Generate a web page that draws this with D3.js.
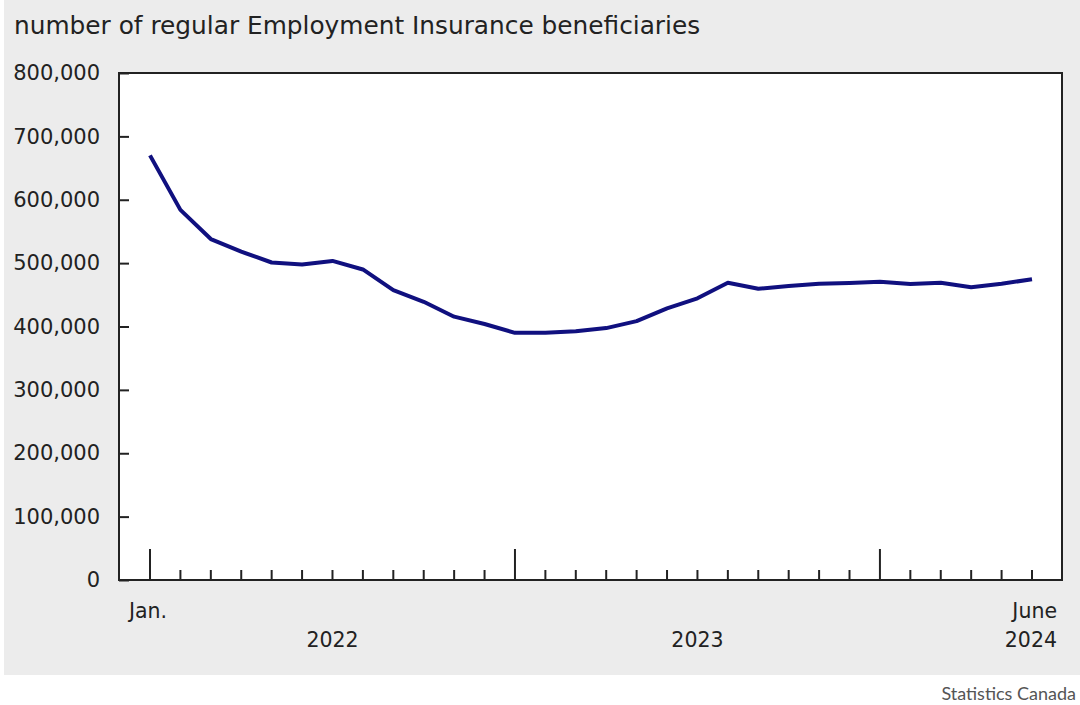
<!DOCTYPE html>
<html><head><meta charset="utf-8">
<script src="https://cdn.jsdelivr.net/npm/d3@7"></script>
<style>body{margin:0;background:#fff}svg{display:block}</style>
</head><body>
<svg id="c" width="1080" height="705"></svg>
<script>
const months = ["2022-01","2022-02","2022-03","2022-04","2022-05","2022-06","2022-07","2022-08","2022-09","2022-10","2022-11","2022-12",
"2023-01","2023-02","2023-03","2023-04","2023-05","2023-06","2023-07","2023-08","2023-09","2023-10","2023-11","2023-12",
"2024-01","2024-02","2024-03","2024-04","2024-05","2024-06"];
const beneficiaries = [670000,584000,538000,518000,501000,498000,503500,490000,457500,439000,415500,404000,
390000,390000,392500,397500,408500,428500,444500,469000,459500,464000,467500,468500,470500,467000,469000,462000,467500,474500];
const yTicks = [0,100000,200000,300000,400000,500000,600000,700000,800000];
const monthLabels = [{i:0,t:"Jan."},{i:29,t:"June"}];
const yearLabels = [{from:0,to:12,t:"2022"},{from:12,to:24,t:"2023"},{from:29,to:29,t:"2024"}];
const title = "number of regular Employment Insurance beneficiaries";
const source = "Statistics Canada";

const svg = d3.select("#c");
const font = "DejaVu Sans, Verdana, sans-serif";
svg.append("rect").attr("x",4).attr("y",0).attr("width",1076).attr("height",675).attr("fill","#ececec");

const L=119,R=1062,T=73,B=580;
svg.append("rect").attr("x",L).attr("y",T).attr("width",R-L).attr("height",B-T).attr("fill","#fff");

const x = d3.scaleLinear().domain([0,29]).range([150,1032]);
const y = d3.scaleLinear().domain([0,800000]).range([B,T]);

svg.append("text").attr("x",14).attr("y",34).attr("font-family",font).attr("font-size",24.8)
  .attr("fill","#222").text(title);

// y axis
const ya = svg.append("g").attr("transform",`translate(${L},0)`)
  .call(d3.axisLeft(y).tickValues(yTicks).tickSize(-10).tickPadding(19).tickFormat(d3.format(",")));
ya.select(".domain").remove();
ya.selectAll(".tick line").attr("stroke","#222").attr("stroke-width",2);
ya.selectAll(".tick text").attr("font-family",font).attr("font-size",21).attr("fill","#222");

// x ticks
const xt = svg.append("g");
xt.selectAll("line").data(months).join("line")
  .attr("x1",(d,i)=>x(i)).attr("x2",(d,i)=>x(i))
  .attr("y1",B).attr("y2",(d,i)=> (d.endsWith("-01")) ? B-31 : B-10)
  .attr("stroke","#222").attr("stroke-width",2);

svg.append("rect").attr("x",L).attr("y",T).attr("width",R-L).attr("height",B-T)
  .attr("fill","none").attr("stroke","#222").attr("stroke-width",2);

svg.selectAll(".ml").data(monthLabels).join("text")
  .attr("x",d=>x(d.i)).attr("y",618).attr("text-anchor",d=>d.i===0?"start":"end")
  .attr("dx",d=>d.i===0?-21:25)
  .attr("font-family",font).attr("font-size",20.5).attr("fill","#222").text(d=>d.t);
svg.selectAll(".yl").data(yearLabels).join("text")
  .attr("x",d=>d.from===d.to? x(d.from)+25 : (x(d.from)+x(d.to))/2).attr("y",647)
  .attr("text-anchor",d=>d.from===d.to?"end":"middle")
  .attr("font-family",font).attr("font-size",20.5).attr("fill","#222").text(d=>d.t);

const line = d3.line().x((d,i)=>x(i)).y(d=>y(d));
svg.append("path").datum(beneficiaries).attr("d",line).attr("fill","none")
  .attr("stroke","#10107f").attr("stroke-width",4).attr("stroke-linejoin","round");

svg.append("text").attr("x",1076).attr("y",700).attr("text-anchor","end")
  .attr("font-family","Lato, sans-serif").attr("font-size",18).attr("fill","#555").text(source);
</script>
</body></html>
